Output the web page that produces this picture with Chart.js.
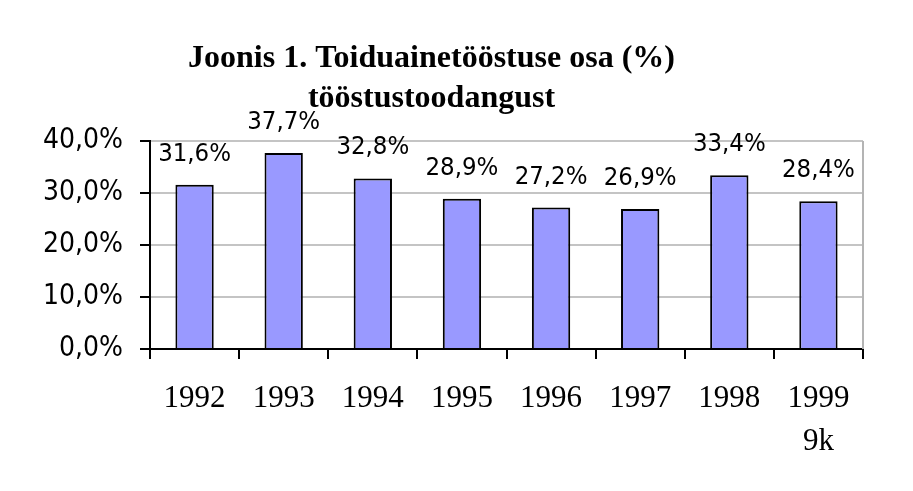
<!DOCTYPE html>
<html>
<head>
<meta charset="utf-8">
<script src="https://cdn.jsdelivr.net/npm/chart.js@4/dist/chart.umd.min.js"></script>
<style>
	body { margin: 0; background: #fff; }
</style>
</head>
<body>
<canvas id="foodChart" width="913" height="491"></canvas>
<script>
// Values
const years = ['1992', '1993', '1994', '1995', '1996', '1997', '1998', ['1999', '9k']];
const shares = [31.6, 37.7, 32.8, 28.9, 27.2, 26.9, 33.4, 28.4];
const yTicks = [0, 10, 20, 30, 40];
const titleLines = ['Joonis 1. Toiduainetööstuse osa (%)', 'tööstustoodangust'];

// 31.6 -> "31,6%"
const fmtPercent = (v) => v.toFixed(1).replace('.', ',') + '%';

// Draw the value above every bar, like the old spreadsheet labels
const barLabels = {
	id: 'barLabels',
	afterDatasetsDraw(chart) {
		const {ctx} = chart;
		const meta = chart.getDatasetMeta(0);
		ctx.save();
		ctx.font = '25.5px "DejaVu Sans Condensed", "DejaVu Sans"';
		ctx.fillStyle = '#000';
		ctx.textAlign = 'center';
		ctx.textBaseline = 'alphabetic';
		meta.data.forEach((bar, i) => {
			ctx.fillText(fmtPercent(shares[i]), bar.x, bar.y - 24);
		});
		ctx.restore();
	},
};

// Gray frame on the right side of the plot area
const plotFrame = {
	id: 'plotFrame',
	beforeDatasetsDraw(chart) {
		const {ctx, chartArea} = chart;
		ctx.save();
		ctx.strokeStyle = '#b4b4b4';
		ctx.lineWidth = 2;
		ctx.beginPath();
		ctx.moveTo(chartArea.right, chartArea.top);
		ctx.lineTo(chartArea.right, chartArea.bottom);
		ctx.stroke();
		ctx.restore();
	},
};

Chart.defaults.font.family = '"DejaVu Sans Condensed", "DejaVu Sans"';
Chart.defaults.color = '#000';

new Chart(document.getElementById('foodChart'), {
	type: 'bar',
	data: {
		labels: years,
		datasets: [
			{
				data: shares,
				backgroundColor: '#9999ff',
				borderColor: '#000',
				borderWidth: 2,
				categoryPercentage: 1,
				barPercentage: 0.43,
			},
		],
	},
	options: {
		responsive: false,
		animation: false,
		devicePixelRatio: 1,
		layout: {padding: {top: 39, right: 50, bottom: 0, left: 0}},
		plugins: {
			legend: {display: false},
			tooltip: {enabled: false},
			title: {
				display: true,
				text: titleLines,
				color: '#000',
				font: {family: '"Liberation Serif"', size: 32, weight: 'bold', lineHeight: 1.25},
				padding: {top: 0, bottom: 22},
			},
		},
		scales: {
			x: {
				afterFit: (scale) => {
					scale.height = 142;
				},
				grid: {
					offset: true,
					drawOnChartArea: false,
					tickLength: 10,
					tickColor: '#000',
					lineWidth: 2,
				},
				border: {color: '#000', width: 2},
				ticks: {
					maxRotation: 0,
					padding: 18,
					font: {family: '"Liberation Serif"', size: 31, lineHeight: 1.4},
				},
			},
			y: {
				min: 0,
				max: 40,
				afterFit: (scale) => {
					scale.width = 150;
				},
				afterBuildTicks: (scale) => {
					scale.ticks = yTicks.map((v) => ({value: v}));
				},
				grid: {
					color: (ctx) => (ctx.tick && ctx.tick.value === 0 ? '#000' : '#c4c4c4'),
					lineWidth: 2,
					tickLength: 10,
					tickColor: '#000',
				},
				border: {color: '#000', width: 2},
				ticks: {
					padding: 17,
					font: {size: 28},
					callback: (v) => fmtPercent(v),
				},
			},
		},
	},
	plugins: [plotFrame, barLabels],
});
</script>
</body>
</html>
